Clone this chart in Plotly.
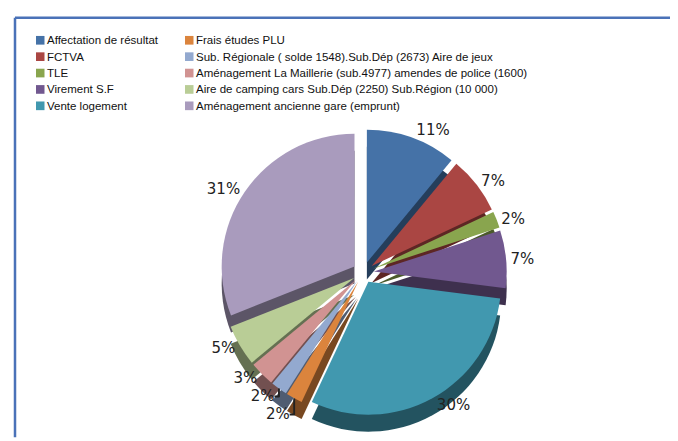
import plotly.graph_objects as go

labels = [
    "Affectation de résultat",
    "FCTVA",
    "TLE",
    "Virement S.F",
    "Vente logement",
    "Frais études PLU",
    "Sub. Régionale ( solde 1548).Sub.Dép (2673) Aire de jeux",
    "Aménagement La Maillerie (sub.4977) amendes de police (1600)",
    "Aire de camping cars Sub.Dép (2250) Sub.Région (10 000)",
    "Aménagement ancienne gare (emprunt)",
]
values = [11, 7, 2, 7, 30, 2, 2, 3, 5, 31]
colors = ["#4572A7", "#AA4643", "#89A54E", "#71588F", "#4198AF",
          "#DB843D", "#93A9CF", "#D19392", "#B9CD96", "#A99BBD"]

W, H = 678, 441


def darken(hexc, f=0.55):
    h = hexc.lstrip("#")
    r, g, b = (int(h[i:i + 2], 16) for i in (0, 2, 4))
    return "rgb(%d,%d,%d)" % (r * f, g * f, b * f)


pull = [0.08] * len(values)
cxc, half_w = 0.524, 0.27
depth = 0.04
top_y0, top_y1 = depth, depth + 0.675

fig = go.Figure()
# "side" of the 3D pie: darker copy shifted down
fig.add_trace(go.Pie(
    labels=labels, values=values, sort=False, direction="clockwise",
    rotation=0, pull=pull,
    marker=dict(colors=[darken(c) for c in colors], line=dict(width=0)),
    textinfo="none", showlegend=False, hoverinfo="skip",
    domain=dict(x=[cxc - half_w, cxc + half_w], y=[top_y0 - depth, top_y1 - depth]),
))
fig.add_trace(go.Pie(
    labels=labels, values=values, sort=False, direction="clockwise",
    rotation=0, pull=pull, marker=dict(colors=colors, line=dict(width=0)),
    texttemplate="%{percent:.0%}", textposition="outside",
    textfont=dict(family="DejaVu Sans", size=15, color="#222222"),
    showlegend=False,
    domain=dict(x=[cxc - half_w, cxc + half_w], y=[top_y0, top_y1]),
))

shapes = []
annotations = []
col_x = [28, 177]
row_y0, row_dy = 33.5, 17
for i, (lab, col) in enumerate(zip(labels, colors)):
    c, r = divmod(i, 5)
    x = col_x[c]
    y = row_y0 + r * row_dy
    shapes.append(dict(type="rect", xref="paper", yref="paper",
                       x0=x / W, x1=(x + 8.5) / W,
                       y0=1 - (y + 4.5) / H, y1=1 - (y - 4.5) / H,
                       fillcolor=col, line=dict(width=0)))
    annotations.append(dict(x=(x + 9) / W, y=1 - y / H, xref="paper", yref="paper",
                            text=lab, showarrow=False, xanchor="left", yanchor="middle",
                            font=dict(family="Liberation Sans", size=11.5, color="#111111")))

# frame
shapes.append(dict(type="line", xref="paper", yref="paper",
                   x0=7 / W, x1=1.01, y0=1 - 10 / H, y1=1 - 10 / H,
                   line=dict(color="#4A72B8", width=2.5)))
shapes.append(dict(type="line", xref="paper", yref="paper",
                   x0=7 / W, x1=7 / W, y0=1 - 10 / H, y1=-0.01,
                   line=dict(color="#4A72B8", width=2.5)))

fig.update_layout(
    width=W, height=H, margin=dict(l=0, r=0, t=0, b=0),
    paper_bgcolor="white", plot_bgcolor="white",
    shapes=shapes, annotations=annotations, showlegend=False,
)
fig.write_html("out.html")
